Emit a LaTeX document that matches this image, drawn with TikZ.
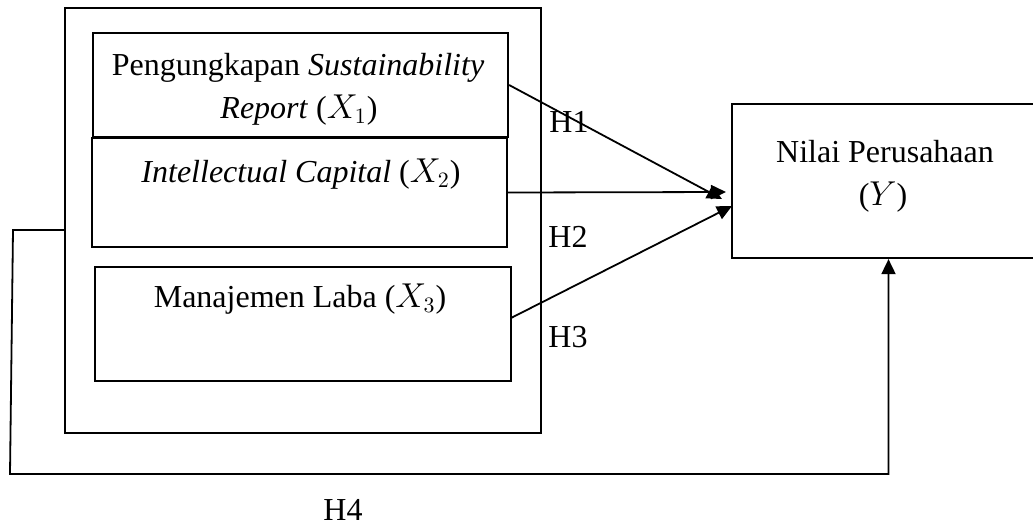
\documentclass[tikz,border=0pt]{standalone}
\usepackage{fontspec}
\setmainfont{Liberation Serif}
\usetikzlibrary{fit,arrows.meta}
\tikzset{
  box/.style={draw, line width=1.1pt, inner sep=0pt, rectangle},
  txt/.style={inner sep=0pt, anchor=base, font=\fontsize{16}{19}\selectfont},
  conn/.style={line width=0.9pt},
  arr/.style={conn, -{Triangle[length=7.5pt,width=7pt]}}
}
\begin{document}
\begin{tikzpicture}[x=0.5pt,y=-0.5pt]
\useasboundingbox (0,0) rectangle (1033,525);
% boxes
\node[box, fit={(65,8) (541,433)}] (outer) {};
\node[box, fit={(93,33) (508,137)}] (x1) {};
\node[box, fit={(92,138) (507,247)}] (x2) {};
\node[box, fit={(95,267) (511,381)}] (x3) {};
\node[box, fit={(732,104) (1045,258)}] (y) {};
% texts
\node[txt] (t1a) at (298,75) {Pengungkapan \textit{Sustainability}};
\node[txt] (t1b) at (299,118) {\textit{Report} ($X_1$)};
\node[txt] (t2) at (301,182) {\textit{Intellectual Capital} ($X_2$)};
\node[txt] (t3) at (300,307) {Manajemen Laba ($X_3$)};
\node[txt] (ty1) at (885,162) {Nilai Perusahaan};
\node[txt] (ty2) at (883,205) {($Y$)};
% hypothesis labels
\node[txt, anchor=base west] (h1) at (549,132) {H1};
\node[txt, anchor=base west] (h2) at (548,247) {H2};
\node[txt, anchor=base west] (h3) at (548,347) {H3};
\node[txt, anchor=base west] (h4) at (323,520) {H4};
% arrow end points
\coordinate (e1) at (722,199);
\coordinate (e2) at (726,192);
\coordinate (e3) at (732,206);
\coordinate (s3) at (511,318);
\coordinate (h4a) at (65,230);
\coordinate (h4b) at (13,230);
\coordinate (h4c) at (10,474);
% connectors
\draw[arr] (x1.east) -- (e1);
\draw[arr] (x2.east) -- (e2);
\draw[arr] (s3) -- (e3);
\draw[arr] (h4a) -- (h4b) -- (h4c) -| (y.south);
\end{tikzpicture}
\end{document}
